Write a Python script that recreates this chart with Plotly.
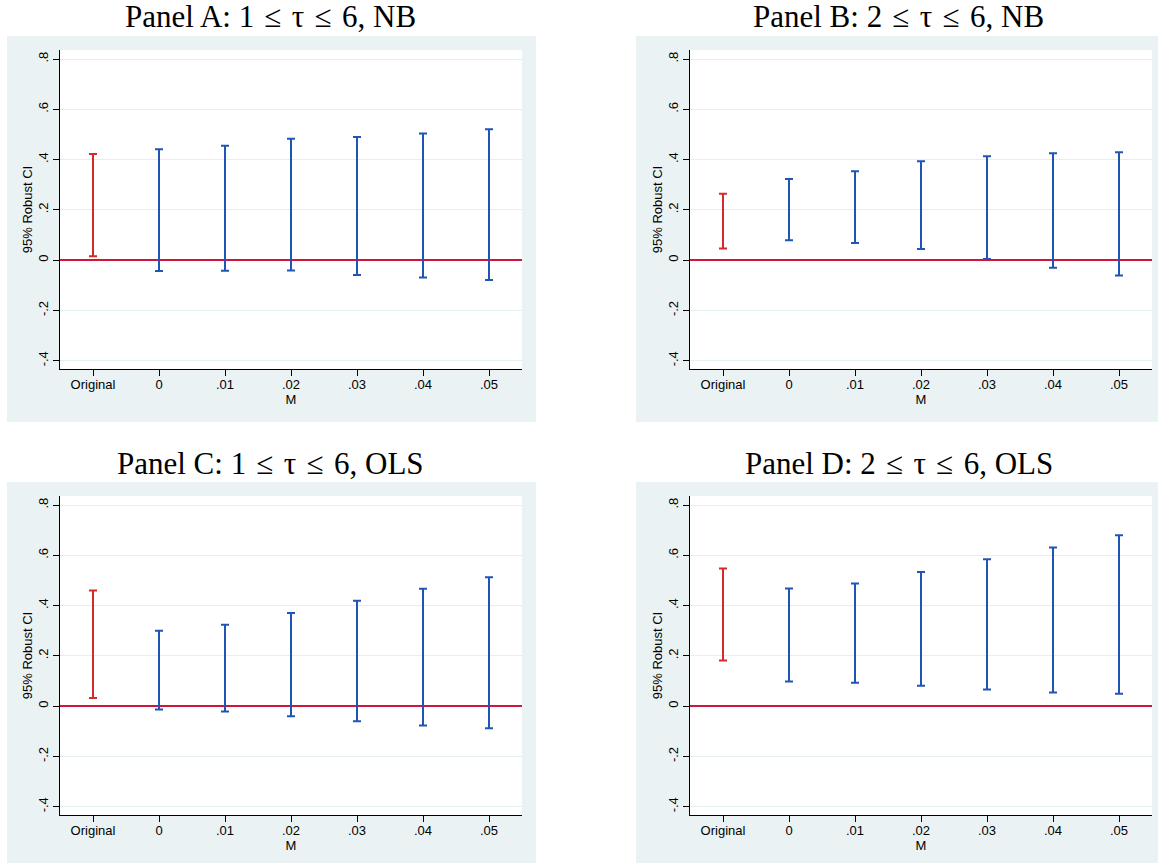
import plotly.graph_objects as go

# ---------------- data ----------------
categories = ["Original", "0", ".01", ".02", ".03", ".04", ".05"]

SP = "\u2004"   # slightly wider spacing to mimic TeX math spacing
panel_titles = [
    f"Panel A: 1{SP}\u2264{SP}\u03c4{SP}\u2264{SP}6, NB",
    f"Panel B: 2{SP}\u2264{SP}\u03c4{SP}\u2264{SP}6, NB",
    f"Panel C: 1{SP}\u2264{SP}\u03c4{SP}\u2264{SP}6, OLS",
    f"Panel D: 2{SP}\u2264{SP}\u03c4{SP}\u2264{SP}6, OLS",
]

a_low = [0.016, -0.043, -0.042, -0.041, -0.059, -0.069, -0.079]
a_high = [0.422, 0.441, 0.455, 0.483, 0.490, 0.504, 0.521]

b_low = [0.046, 0.079, 0.068, 0.044, 0.005, -0.030, -0.061]
b_high = [0.264, 0.323, 0.354, 0.393, 0.413, 0.425, 0.429]

c_low = [0.032, -0.013, -0.021, -0.040, -0.060, -0.077, -0.088]
c_high = [0.460, 0.300, 0.324, 0.371, 0.419, 0.467, 0.513]

d_low = [0.182, 0.098, 0.093, 0.081, 0.066, 0.054, 0.049]
d_high = [0.548, 0.468, 0.488, 0.534, 0.584, 0.631, 0.680]

ytick_vals = [-0.4, -0.2, 0, 0.2, 0.4, 0.6, 0.8]
ytick_text = ["-.4", "-.2", "0", ".2", ".4", ".6", ".8"]

panels = [(a_low, a_high), (b_low, b_high), (c_low, c_high), (d_low, d_high)]

# ---------------- layout geometry (window pixels) ----------------
W, H = 1158, 863

RED = "#d42a2a"
BLUE = "#1f55b5"
ZERO = "#d0143c"
BG = "#eaf2f3"
GRID = "#e6eff0"
SANS = "Liberation Sans, Arial, sans-serif"
SERIF = "Liberation Serif, Times New Roman, serif"

col_plot_x = [(60, 522), (690, 1152)]
col_box_x = [(7, 536), (636, 1170)]
col_title_x = [270, 899]
row_plot_y = [(50, 369), (496, 815)]
row_box_y = [(36, 422), (482, 870)]
row_title_y = [17, 463]


def px(x):
    return x / W


def py(y):
    return 1 - y / H


fig = go.Figure()
shapes = []
annotations = []

for i, (low, high) in enumerate(panels):
    r, c = divmod(i, 2)
    n = i + 1
    xa = "xaxis" if n == 1 else f"xaxis{n}"
    ya = "yaxis" if n == 1 else f"yaxis{n}"
    xref = "x" if n == 1 else f"x{n}"
    yref = "y" if n == 1 else f"y{n}"

    # grey graph region and white plot region
    bx0, bx1 = col_box_x[c]
    by0, by1 = row_box_y[r]
    shapes.append(dict(type="rect", xref="paper", yref="paper", layer="below",
                       x0=px(bx0), x1=px(bx1), y0=py(by1), y1=py(by0),
                       fillcolor=BG, line=dict(width=0)))
    pxa, pxb = col_plot_x[c]
    pya, pyb = row_plot_y[r]
    shapes.append(dict(type="rect", xref="paper", yref="paper", layer="below",
                       x0=px(pxa), x1=px(pxb), y0=py(pyb), y1=py(pya),
                       fillcolor="white", line=dict(width=0)))

    colors = [RED] + [BLUE] * (len(categories) - 1)
    for j, cat in enumerate(categories):
        fig.add_trace(go.Scatter(
            x=[cat], y=[low[j]], mode="markers",
            marker=dict(size=1, opacity=0),
            error_y=dict(type="data", symmetric=False,
                         array=[high[j] - low[j]], arrayminus=[0],
                         color=colors[j], thickness=2, width=4),
            showlegend=False, hoverinfo="skip",
            xaxis=xref, yaxis=yref,
        ))

    fig.layout[xa] = dict(
        domain=[px(pxa), px(pxb)], anchor=yref,
        type="category", categoryorder="array", categoryarray=categories,
        range=[-0.5, 6.5], showgrid=False, zeroline=False,
        showline=True, linecolor="black", linewidth=1.2,
        ticks="outside", ticklen=6, tickcolor="black", tickwidth=1,
        ticklabelstandoff=-3,
        tickfont=dict(family=SANS, size=13, color="black"),
        title=dict(text="M", standoff=0,
                   font=dict(family=SANS, size=13, color="black")),
        fixedrange=True,
    )
    fig.layout[ya] = dict(
        domain=[py(pyb), py(pya)], anchor=xref,
        range=[-0.433, 0.836],
        tickvals=ytick_vals, ticktext=ytick_text, tickangle=-90,
        showgrid=True, gridcolor=GRID, gridwidth=1,
        zeroline=True, zerolinecolor=ZERO, zerolinewidth=1.5,
        showline=True, linecolor="black", linewidth=1.2,
        ticks="outside", ticklen=6, tickcolor="black", tickwidth=1,
        tickfont=dict(family=SANS, size=13, color="black"),
        title=dict(text="95% Robust CI", standoff=0,
                   font=dict(family=SANS, size=13, color="black")),
        fixedrange=True,
    )

    annotations.append(dict(
        text=panel_titles[i], xref="paper", yref="paper",
        x=px(col_title_x[c]), y=py(row_title_y[r]),
        xanchor="center", yanchor="middle", showarrow=False, borderpad=0,
        font=dict(family=SERIF, size=31, color="black"),
    ))

fig.update_layout(
    width=W, height=H,
    margin=dict(l=0, r=0, t=0, b=0),
    paper_bgcolor="white", plot_bgcolor="rgba(0,0,0,0)",
    shapes=shapes, annotations=annotations,
    showlegend=False,
)

fig.write_html("out.html", config={"displayModeBar": False},
               post_script="document.body.style.margin='0px';")
